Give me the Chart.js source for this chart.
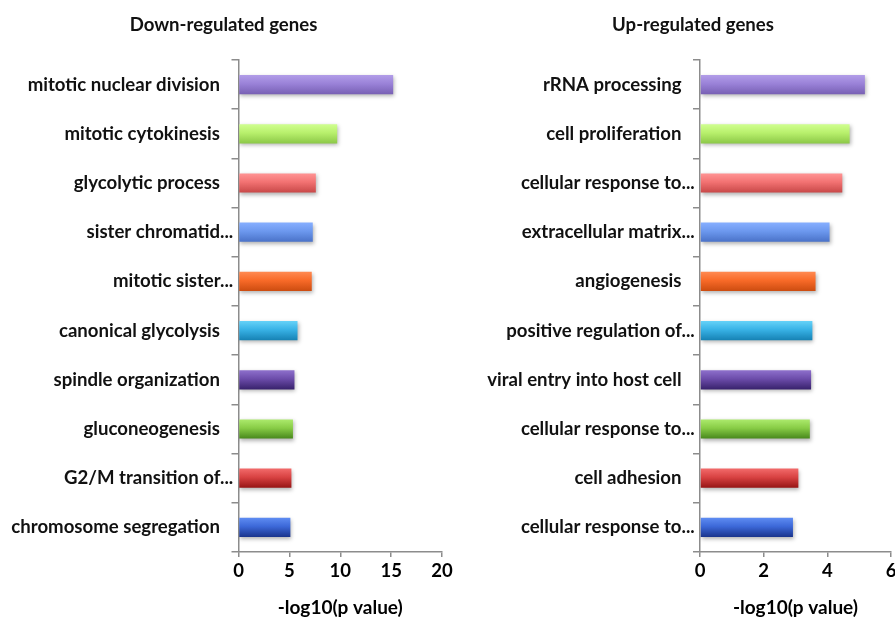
<!DOCTYPE html>
<html>
<head>
<meta charset="utf-8">
<script src="https://cdn.jsdelivr.net/npm/chart.js@4"></script>
<style>
  html, body { margin: 0; padding: 0; background: #fff; }
  #wrap { position: relative; width: 895px; height: 619px; overflow: hidden; }
  .panel { position: absolute; top: 0; height: 619px; }
  .panel canvas { display: block; }
  .ttl { position: absolute; top: 13px; height: 22px; line-height: 22px; text-align: center;
         font: bold 18.6px Lato, sans-serif; color: #111; }
</style>
</head>
<body>
<div id="wrap">
  <div class="panel" style="left:0;width:455px"><canvas id="cDown" width="455" height="619"></canvas></div>
  <div class="panel" style="left:487px;width:408px"><canvas id="cUp" width="408" height="619"></canvas></div>
  <div class="ttl" style="left:0;width:447px">Down-regulated genes</div>
  <div class="ttl" style="left:487px;width:412px">Up-regulated genes</div>
</div>
<script>
// GO terms enriched among down-regulated genes, and their -log10(p value)
const downTerms = [
  'mitotic nuclear division',
  'mitotic cytokinesis',
  'glycolytic process',
  'sister chromatid...',
  'mitotic sister...',
  'canonical glycolysis',
  'spindle organization',
  'gluconeogenesis',
  'G2/M transition of...',
  'chromosome segregation'
];
const downValues = [15.2, 9.7, 7.6, 7.3, 7.2, 5.8, 5.5, 5.35, 5.2, 5.1];
const downTicks = [0, 5, 10, 15, 20];

// GO terms enriched among up-regulated genes
const upTerms = [
  'rRNA processing',
  'cell proliferation',
  'cellular response to...',
  'extracellular matrix...',
  'angiogenesis',
  'positive regulation of...',
  'viral entry into host cell',
  'cellular response to...',
  'cell adhesion',
  'cellular response to...'
];
const upValues = [5.18, 4.7, 4.47, 4.07, 3.63, 3.53, 3.49, 3.45, 3.09, 2.92];
const upTicks = [0, 2, 4, 6];

const axisTitle = '-log10(p value)';

// bar colour ramps (top, middle, bottom), one per row
const palette = [
  ['#b29de8', '#9a82d8', '#7860b4'],
  ['#d0ff90', '#b8f06c', '#8cc848'],
  ['#ff9494', '#f27272', '#c84848'],
  ['#86aeff', '#6c98ee', '#4a72c8'],
  ['#ff8a52', '#f86a28', '#cc4c10'],
  ['#66d2f8', '#38b2e6', '#1682b4'],
  ['#8e70cc', '#6c4caa', '#38226c'],
  ['#acea6c', '#88cc46', '#48881c'],
  ['#f26a6a', '#d84242', '#961414'],
  ['#5e8cf2', '#3c68d8', '#1a348c']
];

const BAR_FRACTION = 0.39;
const FONT = 'Lato, sans-serif';
const AXIS_GREY = '#8c8c8c';

function barFill(c) {
  const chart = c.chart;
  const p = palette[c.dataIndex % palette.length];
  const sc = chart.scales && chart.scales.y;
  if (!chart.chartArea || !sc) return p[1];
  const y = sc.getPixelForValue(c.dataIndex);
  const half = sc.height / chart.data.labels.length * BAR_FRACTION / 2;
  const g = chart.ctx.createLinearGradient(0, y - half, 0, y + half);
  g.addColorStop(0, p[0]);
  g.addColorStop(0.45, p[1]);
  g.addColorStop(1, p[2]);
  return g;
}

// category names, right-aligned; a trailing "..." hangs past the text edge
const termLabels = {
  id: 'termLabels',
  afterDraw(chart, args, opts) {
    const sc = chart.scales.y;
    const ctx = chart.ctx;
    ctx.save();
    ctx.font = 'bold 18.6px ' + FONT;
    ctx.fillStyle = '#111';
    ctx.textAlign = 'right';
    ctx.textBaseline = 'middle';
    const dots = ctx.measureText('...').width;
    chart.data.labels.forEach((t, i) => {
      const y = sc.getPixelForValue(i);
      let x = sc.right - opts.gap;
      if (t.endsWith('...')) x += dots;
      ctx.fillText(t, x, y);
    });
    ctx.restore();
  }
};

// soft drop shadow under the bars
const barShadow = {
  id: 'barShadow',
  beforeDatasetsDraw(chart) {
    const c = chart.ctx;
    c.save();
    c.shadowColor = 'rgba(0,0,0,0.3)';
    c.shadowBlur = 4;
    c.shadowOffsetX = 1;
    c.shadowOffsetY = 2;
  },
  afterDatasetsDraw(chart) {
    chart.ctx.restore();
  }
};

function makeChart(id, terms, values, ticks, max, axisWidth, rightPad) {
  return new Chart(document.getElementById(id), {
    type: 'bar',
    data: {
      labels: terms,
      datasets: [{
        data: values,
        backgroundColor: barFill,
        borderWidth: 0,
        categoryPercentage: 1,
        barPercentage: BAR_FRACTION
      }]
    },
    options: {
      indexAxis: 'y',
      responsive: false,
      animation: false,
      events: [],
      layout: { padding: { top: 60, right: rightPad, left: 0, bottom: 0 } },
      plugins: {
        legend: { display: false },
        tooltip: { enabled: false },
        termLabels: { gap: 18.5 }
      },
      scales: {
        x: {
          type: 'linear',
          min: 0,
          max: max,
          afterBuildTicks: s => { s.ticks = ticks.map(v => ({ value: v })); },
          afterFit: s => { s.height = 67; s.paddingLeft = 0; s.paddingRight = 0; },
          grid: { drawOnChartArea: false, drawTicks: true, tickLength: 5, color: AXIS_GREY, lineWidth: 1.5 },
          border: { display: true, color: AXIS_GREY, width: 1.5 },
          ticks: { color: '#000', font: { family: FONT, weight: 'bold', size: 18.5 }, padding: 3, maxRotation: 0 },
          title: { display: true, text: axisTitle, color: '#000',
                   font: { family: FONT, weight: 'bold', size: 19 }, padding: { top: 0, bottom: 0 } }
        },
        y: {
          type: 'category',
          ticks: { display: false },
          afterFit: s => { s.width = axisWidth; },
          grid: { drawOnChartArea: false, drawTicks: true, tickLength: 7, color: AXIS_GREY, lineWidth: 1.5, offset: true },
          border: { display: true, color: AXIS_GREY, width: 1.5 }
        }
      }
    },
    plugins: [termLabels, barShadow]
  });
}

makeChart('cDown', downTerms, downValues, downTicks, 20, 238.5, 13);
makeChart('cUp', upTerms, upValues, upTicks, 6, 213, 4);
</script>
</body>
</html>
